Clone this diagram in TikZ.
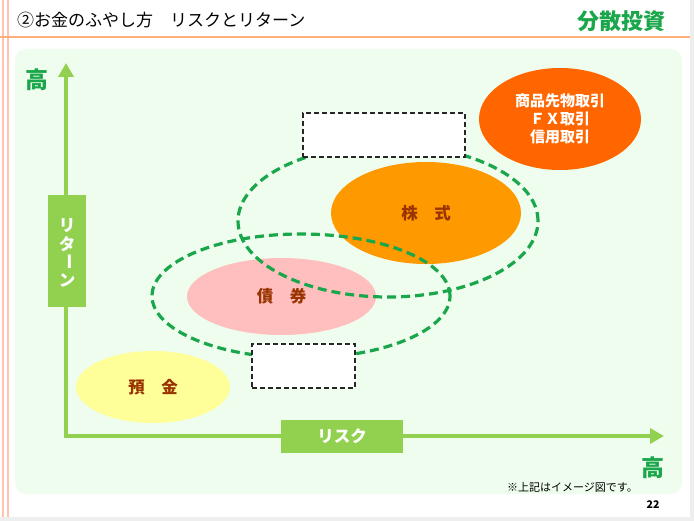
\documentclass[tikz,border=0pt]{standalone}
\usepackage{fontspec}
\usepackage{graphicx}
\setmainfont{Noto Sans CJK JP}
\usetikzlibrary{arrows.meta,shapes.geometric}
\definecolor{pagegray}{HTML}{EEEEEE}
\definecolor{panelgreen}{HTML}{EFFDEE}
\definecolor{axisgreen}{HTML}{92D050}
\definecolor{darkgreen}{HTML}{1AA64A}
\definecolor{titleline}{HTML}{FFB07A}
\definecolor{leftline}{HTML}{FFC4B0}
\definecolor{yellowfill}{HTML}{FFFF99}
\definecolor{pinkfill}{HTML}{FFBFBF}
\definecolor{orangefill}{HTML}{FF9900}
\definecolor{deeporange}{HTML}{FF6600}
\definecolor{labelbrown}{HTML}{993300}
\tikzset{
  blob/.style={ellipse, draw=none, inner sep=0pt, font=\fontsize{16.5}{18}\selectfont\bfseries, text=labelbrown},
  ring/.style={ellipse, draw=darkgreen, line width=3.2pt, dash pattern=on 9pt off 5pt, fill=none, inner sep=0pt},
  blankbox/.style={rectangle, draw=black!85, fill=white, line width=1.5pt, dash pattern=on 5pt off 3pt, inner sep=0pt},
  axislabel/.style={rectangle, fill=axisgreen, draw=none, text=white, inner sep=0pt, font=\fontsize{16.5}{18}\selectfont\bfseries},
  highlabel/.style={text=darkgreen, font=\fontsize{23}{25}\selectfont\bfseries, inner sep=0pt},
}
\begin{document}
\begin{tikzpicture}[x=1pt,y=-1pt]
\useasboundingbox (0,0) rectangle (694,521);
% page
\fill[pagegray] (0,0) rectangle (694,521);
\fill[white] (0,0) rectangle (690,517);
\draw[leftline, line width=1.2pt] (3,0) -- (3,517);
\draw[leftline, line width=1.2pt] (8,0) -- (8,517);
\draw[titleline, line width=2pt] (0,37) -- (690,37);
% title
\node[anchor=west, inner sep=0pt, font=\fontsize{17}{19}\selectfont] (title) at (17,20) {②お金のふやし方　リスクとリターン};
\node[anchor=east, inner sep=0pt, text=darkgreen, font=\fontsize{22}{24}\selectfont\bfseries] (topic) at (666,21) {分散投資};
% panel
\fill[panelgreen, rounded corners=11pt] (15,49) rectangle (682,494);
% axes
\coordinate (ytip) at (66,63);
\coordinate (corner) at (66,436);
\coordinate (xtip) at (664,436);
\draw[axisgreen, line width=4pt, {Triangle[width=15pt,length=14pt]}-{Triangle[width=15pt,length=14pt]}] (ytip) -- (corner) -- (xtip);
\node[axislabel, minimum width=38pt, minimum height=112pt] (ret) at (67,251) {};
\node[text=white, inner sep=0pt, font=\fontsize{16.5}{18}\selectfont\bfseries] (retA) at (67,226) {リ};
\node[text=white, inner sep=0pt, font=\fontsize{16.5}{18}\selectfont\bfseries] (retB) at (67,244) {タ};
\node[text=white, inner sep=0pt, font=\fontsize{16.5}{18}\selectfont\bfseries, rotate=-90] (retC) at (67,262) {ー};
\node[text=white, inner sep=0pt, font=\fontsize{16.5}{18}\selectfont\bfseries] (retD) at (67,280) {ン};
\node[axislabel, minimum width=122pt, minimum height=33pt] (risk) at (342,436.5) {リスク};
\node[highlabel] (hiY) at (37,80) {高};
\node[highlabel] (hiX) at (653,468) {高};
% filled ellipses
\node[blob, fill=yellowfill, minimum width=154pt, minimum height=72pt] (deposit) at (153,387) {預　金};
\node[blob, fill=pinkfill, minimum width=189pt, minimum height=77pt] (bond) at (281.5,296.5) {債　券};
\node[blob, fill=orangefill, minimum width=190pt, minimum height=102pt] (stock) at (426,213) {株　式};
\node[blob, fill=deeporange, minimum width=162pt, minimum height=102pt, text=white, align=center, font=\fontsize{15}{18}\selectfont\bfseries] (deriv) at (560,119) {商品先物取引\\ＦＸ取引\\信用取引};
% dashed groupings
\node[ring, minimum width=300pt, minimum height=152pt] (upperring) at (388,221) {};
\node[ring, minimum width=298pt, minimum height=124pt] (lowerring) at (301,296) {};
% blank boxes
\node[blankbox, minimum width=162pt, minimum height=44pt] (upperbox) at (384,135) {};
\node[blankbox, minimum width=103pt, minimum height=44pt] (lowerbox) at (303.5,366) {};
% footnote and page number
\node[anchor=east, inner sep=0pt, font=\fontsize{11}{13}\selectfont] (note) at (638,487) {※上記はイメージ図です。};
\node[inner sep=0pt, font=\fontsize{10.5}{12}\selectfont\bfseries] (pageno) at (653,505) {22};
\end{tikzpicture}
\end{document}
